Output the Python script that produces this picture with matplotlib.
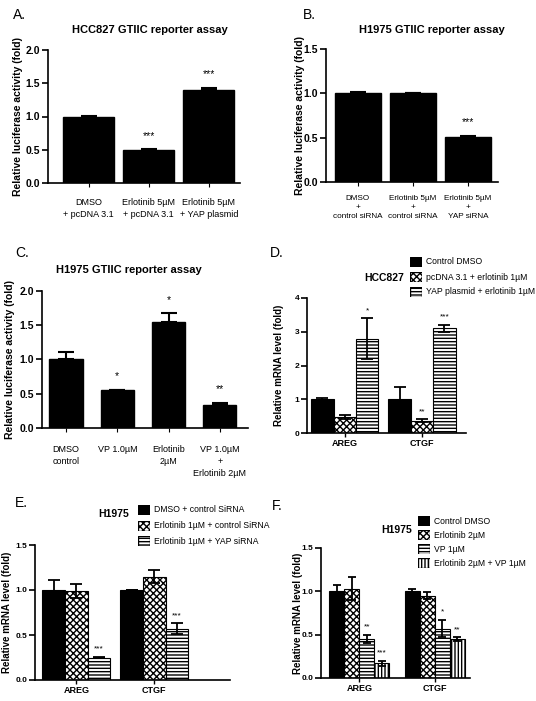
import numpy as np
import matplotlib
matplotlib.use('Agg')
import matplotlib.pyplot as plt

plt.rcParams['font.family'] = ['Liberation Sans', 'DejaVu Sans']
plt.rcParams['hatch.linewidth'] = 1.0
plt.rcParams['axes.linewidth'] = 1.2

W, H = 536, 701

# ---- data ----
a_labels = ['DMSO\n+ pcDNA 3.1', 'Erlotinib 5µM\n+ pcDNA 3.1', 'Erlotinib 5µM\n+ YAP plasmid']
a_vals = [1.0, 0.5, 1.4]
a_err = [0.01, 0.01, 0.03]
a_sig = ['', '***', '***']

b_labels = ['DMSO\n+\ncontrol siRNA', 'Erlotinib 5µM\n+\ncontrol siRNA', 'Erlotinib 5µM\n+\nYAP siRNA']
b_vals = [1.0, 1.0, 0.51]
b_err = [0.01, 0.005, 0.01]
b_sig = ['', '', '***']

c_labels = ['DMSO\ncontrol', 'VP 1.0µM', 'Erlotinib\n2µM', 'VP 1.0µM\n+\nErlotinib 2µM']
c_vals = [1.0, 0.55, 1.55, 0.34]
c_err = [0.11, 0.01, 0.13, 0.03]
c_sig = ['', '*', '*', '**']

genes = ['AREG', 'CTGF']

d_series = ['Control DMSO', 'pcDNA 3.1 + erlotinib 1µM', 'YAP plasmid + erlotinib 1µM']
d_vals = [[1.0, 1.0], [0.47, 0.37], [2.8, 3.1]]
d_err = [[0.04, 0.37], [0.05, 0.04], [0.6, 0.1]]
d_sig = [['', ''], ['', '**'], ['*', '***']]

e_series = ['DMSO + control SiRNA', 'Erlotinib 1µM + control SiRNA', 'Erlotinib 1µM + YAP siRNA']
e_vals = [[1.0, 1.0], [0.99, 1.15], [0.25, 0.57]]
e_err = [[0.11, 0.005], [0.08, 0.07], [0.005, 0.06]]
e_sig = [['', ''], ['', ''], ['***', '***']]

f_series = ['Control DMSO', 'Erlotinib 2µM', 'VP 1µM', 'Erlotinib 2µM + VP 1µM']
f_vals = [[1.0, 1.0], [1.03, 0.95], [0.45, 0.57], [0.17, 0.45]]
f_err = [[0.07, 0.03], [0.13, 0.04], [0.05, 0.1], [0.03, 0.02]]
f_sig = [['', ''], ['', ''], ['**', '*'], ['***', '**']]

hatches = ['', 'xxxxx', '-----', '|||||']
faces = ['black', 'white', 'white', 'white']

fig = plt.figure(figsize=(W / 100, H / 100), dpi=100)


def px_axes(x0, y0, x1, y1):
    return fig.add_axes([x0 / W, 1 - y1 / H, (x1 - x0) / W, (y1 - y0) / H])


def style(ax, ymax, step, fmt, tick_size):
    ticks = np.arange(0, ymax + 1e-9, step)
    ax.set_ylim(0, ymax)
    ax.set_yticks(ticks)
    ax.set_yticklabels([fmt.format(v) for v in ticks], fontsize=tick_size, fontweight='bold')
    ax.spines['top'].set_visible(False)
    ax.spines['right'].set_visible(False)
    ax.tick_params(axis='y', length=4, width=1.2, pad=1.5)


def fig_text(x, y, s, **kw):
    fig.text(x / W, 1 - y / H, s, **kw)


def single_panel(box, xlim, labels, vals, err, sig, width, ymax, step,
                 title, title_xy, letter, letter_xy, ylab_x, label_pad, label_size, cap):
    ax = px_axes(*box)
    x = np.arange(len(vals))
    ax.bar(x, vals, width, color='black', edgecolor='black')
    ax.errorbar(x, vals, yerr=[np.zeros(len(err)), err], fmt='none', ecolor='black',
                elinewidth=1.5, capsize=cap, capthick=1.5)
    for xi, v, e, s in zip(x, vals, err, sig):
        if s:
            ax.annotate(s, (xi, v + e), xytext=(0, 6), textcoords='offset points',
                        ha='center', va='bottom', fontsize=7.5)
    ax.set_xlim(*xlim)
    style(ax, ymax, step, '{:.1f}', 7.5)
    ax.set_xticks(x)
    ax.set_xticklabels(labels, fontsize=label_size, linespacing=1.45)
    ax.tick_params(axis='x', length=3, width=0.8, pad=label_pad)
    fig_text(*title_xy, title, ha='center', va='center', fontsize=8, fontweight='bold')
    fig_text(*letter_xy, letter, ha='left', va='center', fontsize=10)
    fig_text(ylab_x, (box[1] + box[3]) / 2, 'Relative luciferase activity (fold)',
             rotation=90, ha='center', va='center', fontsize=7.5, fontweight='bold')
    return ax


def group_panel(box, xlim, series, vals, err, sig, width, ymax, step, fmt,
                title, title_xy, letter, letter_xy, ylab_x, leg_x, leg_y0, leg_dy,
                leg_size, cap):
    ax = px_axes(*box)
    x = np.arange(len(genes))
    n = len(series)
    for i in range(n):
        xs = x + (i - (n - 1) / 2) * width
        ax.bar(xs, vals[i], width, color=faces[i], edgecolor='black',
               hatch=hatches[i], linewidth=0.8)
        ax.errorbar(xs, vals[i], yerr=err[i], fmt='none', ecolor='black',
                    elinewidth=1.3, capsize=cap, capthick=1.3)
        for xi, v, e, s in zip(xs, vals[i], err[i], sig[i]):
            if s:
                ax.annotate(s, (xi, v + e), xytext=(0, 3), textcoords='offset points',
                            ha='center', va='bottom', fontsize=6)
    ax.set_xlim(*xlim)
    style(ax, ymax, step, fmt, 6)
    ax.set_xticks(x)
    ax.set_xticklabels(genes, fontsize=6.5, fontweight='bold')
    ax.tick_params(axis='x', length=3, width=1.0, pad=1)
    fig_text(*title_xy, title, ha='center', va='center', fontsize=7.5, fontweight='bold')
    fig_text(*letter_xy, letter, ha='left', va='center', fontsize=10)
    fig_text(ylab_x, (box[1] + box[3]) / 2, 'Relative mRNA level (fold)',
             rotation=90, ha='center', va='center', fontsize=7, fontweight='bold')
    for i, name in enumerate(series):
        y = leg_y0 + i * leg_dy
        r = fig.add_axes([leg_x / W, 1 - (y + 5) / H, 12 / W, 10 / H])
        r.bar([0], [1], 1, color=faces[i], edgecolor='black', hatch=hatches[i],
              linewidth=1.0)
        r.set_xlim(-0.5, 0.5)
        r.set_ylim(0, 1)
        r.axis('off')
        fig_text(leg_x + 16, y, name, ha='left', va='center', fontsize=leg_size)
    return ax


single_panel((48, 50, 240, 183), (-0.68, 2.52), a_labels, a_vals, a_err, a_sig, 0.85,
             2.0, 0.5, 'HCC827 GTIIC reporter assay', (150, 30), 'A.', (13, 15), 18, 8, 6.5, 6)
single_panel((326, 49, 498, 182), (-0.58, 2.55), b_labels, b_vals, b_err, b_sig, 0.84,
             1.5, 0.5, 'H1975 GTIIC reporter assay', (432, 30), 'B.', (303, 15), 300, 6, 5.9, 6)
single_panel((42, 291, 248, 428), (-0.47, 3.55), c_labels, c_vals, c_err, c_sig, 0.65,
             2.0, 0.5, 'H1975 GTIIC reporter assay', (129, 270), 'C.', (15, 253), 10, 9, 6.5, 6)

group_panel((307, 298, 466, 433), (-0.49, 1.57), d_series, d_vals, d_err, d_sig, 0.29,
            4, 1, '{:.0f}', 'HCC827', (384, 278), 'D.', (270, 253), 279, 410, 262, 15, 6.2, 4)
group_panel((35, 545, 230, 680), (-0.53, 1.97), e_series, e_vals, e_err, e_sig, 0.29,
            1.5, 0.5, '{:.1f}', 'H1975', (114, 514), 'E.', (15, 503), 7, 138, 510, 15.5, 6.2, 4)
group_panel((321, 548, 470, 678), (-0.51, 1.47), f_series, f_vals, f_err, f_sig, 0.2,
            1.5, 0.5, '{:.1f}', 'H1975', (397, 530), 'F.', (272, 506), 298, 418, 521, 14, 6.2, 3)

fig.savefig('out.png', dpi=100)
